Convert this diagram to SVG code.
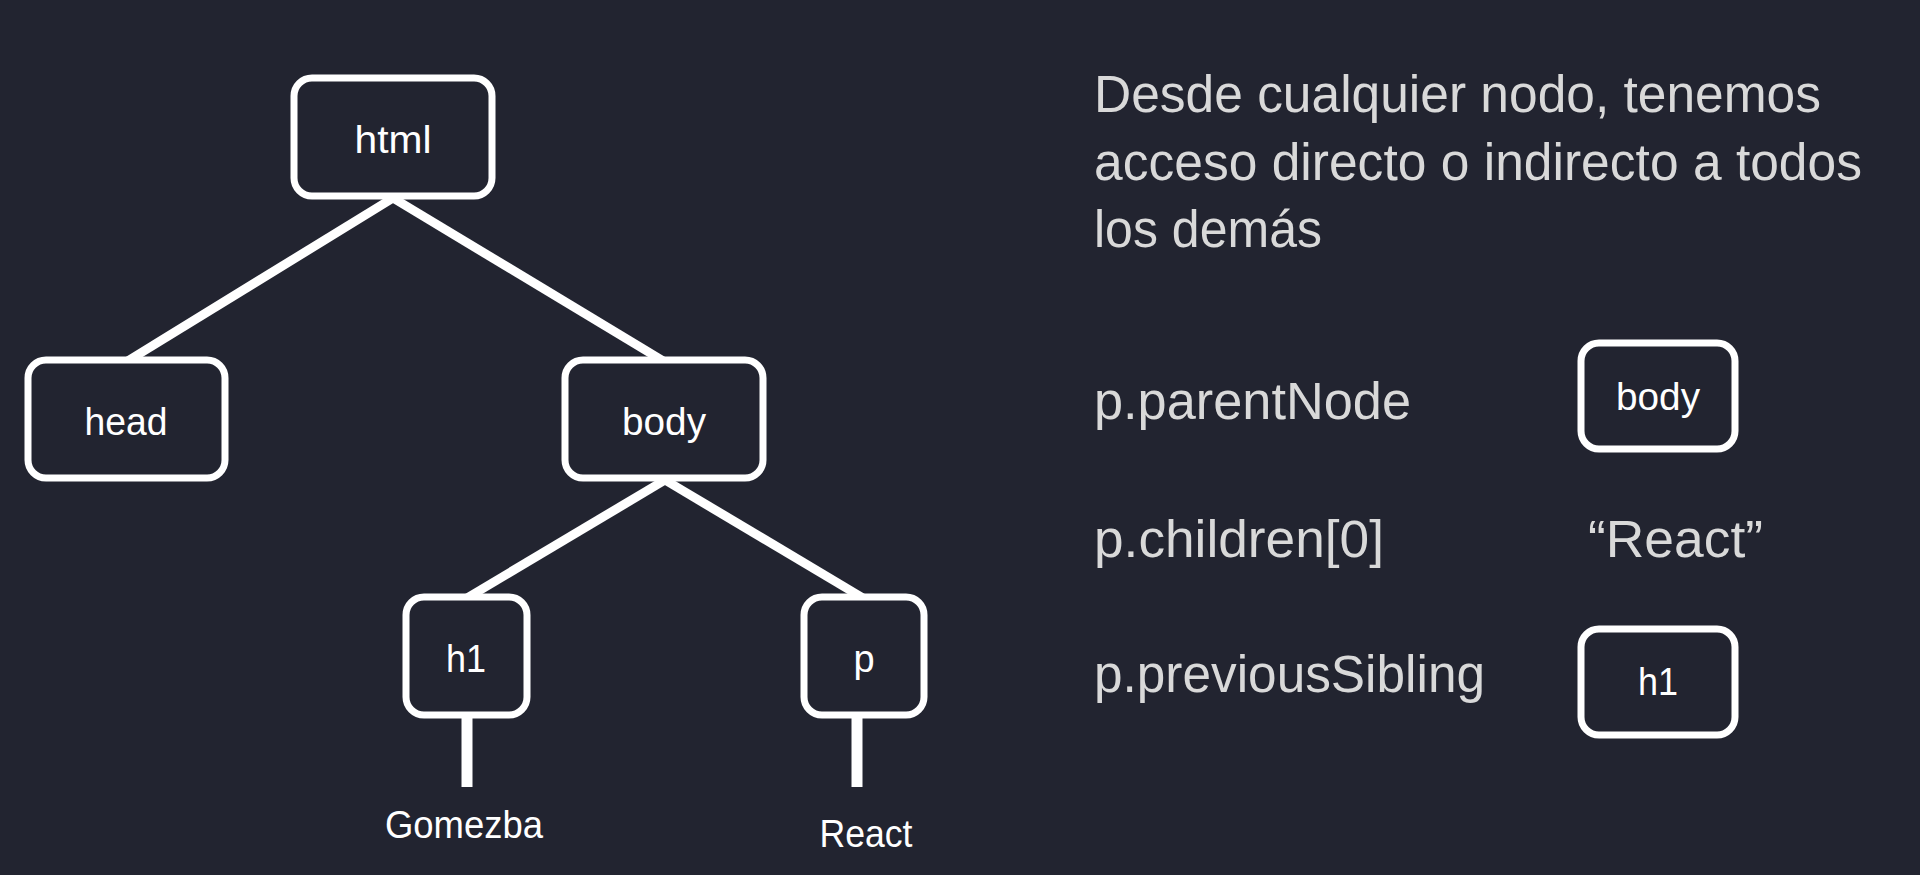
<svg xmlns="http://www.w3.org/2000/svg" width="1920" height="875" viewBox="0 0 1920 875">
<style>
.box{fill:#222430;stroke:#ffffff;stroke-width:7}
.lbl{font-family:"Liberation Sans",Arial,sans-serif;font-size:38px;fill:#ffffff;text-anchor:middle}
.txt{font-family:"Liberation Sans",Arial,sans-serif;font-size:51px;fill:#d9d9d9}
.edge{stroke:#ffffff;stroke-width:9;fill:none}
.stem{stroke:#ffffff;stroke-width:11;fill:none}
</style>
<rect width="1920" height="875" fill="#222430"/>
<g id="connectors">
<line class="edge" x1="393" y1="198" x2="126" y2="362"/>
<line class="edge" x1="393" y1="198" x2="665" y2="362"/>
<line class="edge" x1="665" y1="480" x2="467" y2="598"/>
<line class="edge" x1="665" y1="480" x2="863" y2="598"/>
<line class="stem" x1="467" y1="716" x2="467" y2="787"/>
<line class="stem" x1="857" y1="716" x2="857" y2="787"/>
</g>
<g id="node-html"><rect class="box" x="294" y="78" width="198" height="118" rx="18"/><text class="lbl" x="393" y="153" textLength="77" lengthAdjust="spacingAndGlyphs">html</text></g>
<g id="node-head"><rect class="box" x="28" y="360" width="197" height="118" rx="18"/><text class="lbl" x="126" y="435" textLength="83" lengthAdjust="spacingAndGlyphs">head</text></g>
<g id="node-body"><rect class="box" x="565" y="360" width="198" height="118" rx="18"/><text class="lbl" x="664" y="435" textLength="84" lengthAdjust="spacingAndGlyphs">body</text></g>
<g id="node-h1"><rect class="box" x="406" y="597" width="121" height="118" rx="18"/><text class="lbl" x="466" y="672" textLength="40" lengthAdjust="spacingAndGlyphs">h1</text></g>
<g id="node-p"><rect class="box" x="804" y="597" width="120" height="118" rx="18"/><text class="lbl" x="864" y="672">p</text></g>
<g id="text-gomezba"><text class="lbl" x="464" y="838" textLength="158" lengthAdjust="spacingAndGlyphs">Gomezba</text></g>
<g id="text-react"><text class="lbl" x="866" y="847" textLength="93" lengthAdjust="spacingAndGlyphs">React</text></g>
<g id="description">
<text class="txt" x="1094" y="112" textLength="727" lengthAdjust="spacingAndGlyphs">Desde cualquier nodo, tenemos</text>
<text class="txt" x="1094" y="180" textLength="768" lengthAdjust="spacingAndGlyphs">acceso directo o indirecto a todos</text>
<text class="txt" x="1094" y="247" textLength="228" lengthAdjust="spacingAndGlyphs">los demás</text>
</g>
<g id="row-parent">
<text class="txt" x="1094" y="419" textLength="317" lengthAdjust="spacingAndGlyphs">p.parentNode</text>
<rect class="box" x="1581" y="343" width="154" height="106" rx="18"/>
<text class="lbl" x="1658" y="410" textLength="84" lengthAdjust="spacingAndGlyphs">body</text>
</g>
<g id="row-children">
<text class="txt" x="1094" y="557" textLength="290" lengthAdjust="spacingAndGlyphs">p.children[0]</text>
<text class="txt" x="1588" y="557" textLength="175" lengthAdjust="spacingAndGlyphs">“React”</text>
</g>
<g id="row-sibling">
<text class="txt" x="1094" y="692" textLength="391" lengthAdjust="spacingAndGlyphs">p.previousSibling</text>
<rect class="box" x="1581" y="629" width="154" height="106" rx="18"/>
<text class="lbl" x="1658" y="695" textLength="40" lengthAdjust="spacingAndGlyphs">h1</text>
</g>
</svg>
